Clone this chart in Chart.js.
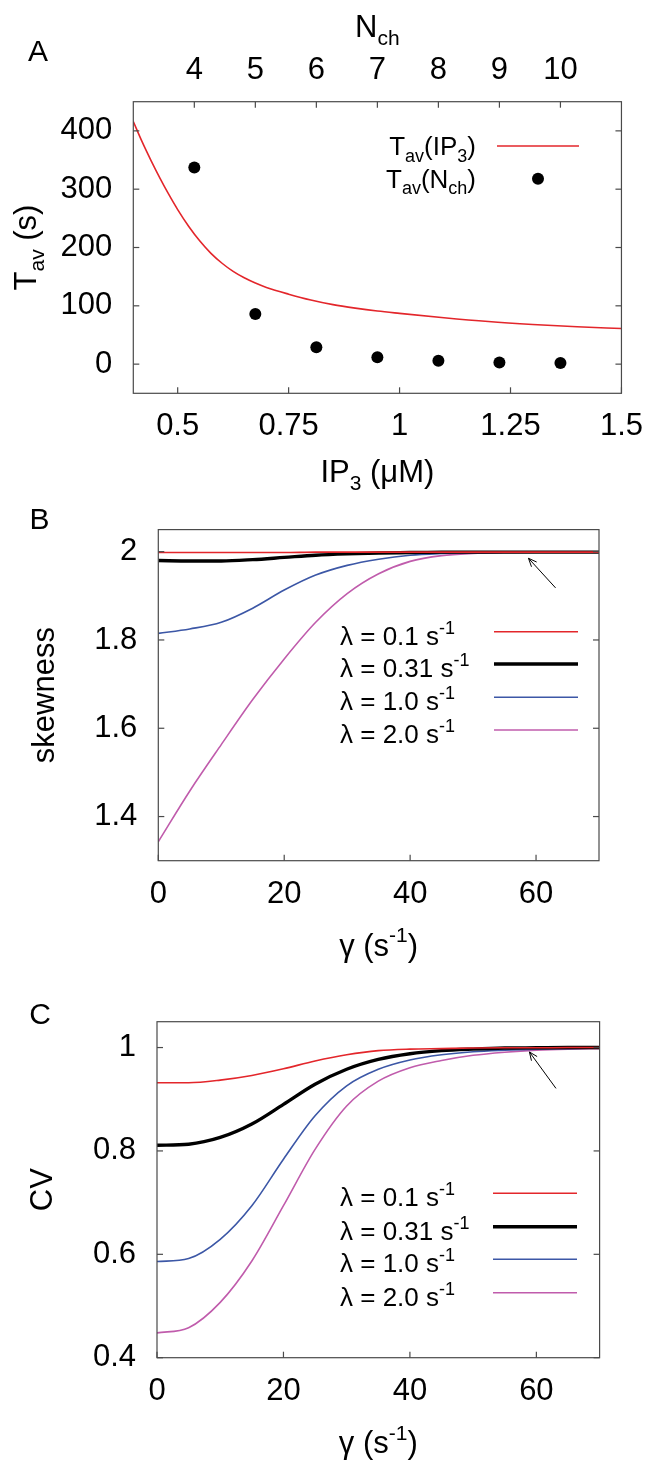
<!DOCTYPE html>
<html>
<head>
<meta charset="utf-8">
<title>Tav, skewness and CV</title>
<script src="https://cdn.jsdelivr.net/npm/chart.js@4.4.1/dist/chart.umd.min.js"></script>
<style>
  html, body { margin: 0; padding: 0; background: #fff; }
  #page { position: relative; width: 658px; height: 1468px; }
  .panel { position: absolute; left: 0; width: 658px; }
</style>
</head>
<body>
<div id="page">
  <div class="panel" style="top:0; height:490px;"><canvas id="chart-a"></canvas></div>
  <div class="panel" style="top:490px; height:490px;"><canvas id="chart-b"></canvas></div>
  <div class="panel" style="top:980px; height:488px;"><canvas id="chart-c"></canvas></div>
</div>
<script>
/* ============================================
   Panel A: Tav vs IP3 / Nch, Panels B-C: skewness and CV vs gamma
   ============================================ */

// --- Panel A data ---
const ip3Values = [0.4, 0.42, 0.44, 0.46, 0.48, 0.5, 0.525, 0.55, 0.575, 0.6, 0.625, 0.65, 0.675, 0.7, 0.75, 0.8, 0.85, 0.9, 0.95, 1.0, 1.1, 1.2, 1.3, 1.4, 1.5];
const tavIp3 = [416, 381, 349, 319, 291, 265, 236, 211, 190, 173, 159, 148, 139, 131.5, 120, 110, 102, 96, 91, 87, 79.5, 73, 68, 64, 61];
const nchValues = [4, 5, 6, 7, 8, 9, 10];
const tavNch = [337, 86, 29, 12, 6, 3, 2];
const ip3Ticks = [0.5, 0.75, 1, 1.25, 1.5];
const nchTicks = [4, 5, 6, 7, 8, 9, 10];
const tavTicks = [0, 100, 200, 300, 400];

// --- Panels B and C data ---
const gammaValues = [0, 5, 10, 15, 20, 25, 30, 35, 40, 45, 50, 55, 60, 65, 70];
const lambdaLabels = ['0.1', '0.31', '1.0', '2.0'];
const skewL01 = [1.998, 1.998, 1.998, 1.998, 1.998, 1.999, 1.999, 1.999, 1.999, 1.999, 1.999, 1.999, 1.999, 1.999, 1.999];
const skewL031 = [1.980, 1.979, 1.979, 1.982, 1.987, 1.992, 1.995, 1.997, 1.998, 1.999, 1.999, 1.999, 1.999, 1.999, 1.999];
const skewL1 = [1.815, 1.825, 1.840, 1.872, 1.913, 1.947, 1.969, 1.983, 1.992, 1.996, 1.998, 1.999, 1.999, 1.999, 1.999];
const skewL2 = [1.343, 1.458, 1.563, 1.665, 1.757, 1.840, 1.905, 1.950, 1.978, 1.991, 1.996, 1.998, 1.999, 1.999, 1.999];
const cvL01 = [0.932, 0.932, 0.937, 0.946, 0.959, 0.974, 0.986, 0.994, 0.997, 0.998, 0.999, 0.9995, 0.9995, 1.0, 1.0];
const cvL031 = [0.811, 0.813, 0.826, 0.852, 0.890, 0.929, 0.958, 0.977, 0.988, 0.994, 0.997, 0.999, 0.9995, 1.0, 1.0];
const cvL1 = [0.586, 0.592, 0.629, 0.694, 0.784, 0.868, 0.926, 0.958, 0.976, 0.986, 0.992, 0.995, 0.997, 0.998, 0.999];
const cvL2 = [0.448, 0.458, 0.507, 0.587, 0.694, 0.803, 0.887, 0.935, 0.961, 0.975, 0.985, 0.991, 0.995, 0.997, 0.998];
const gammaTicks = [0, 20, 40, 60];
const skewTicks = [1.4, 1.6, 1.8, 2];
const cvTicks = [0.4, 0.6, 0.8, 1];

// arrow annotations: [tail, head] in data units
const arrowB = [[63.1, 1.918], [58.8, 1.985]];
const arrowC = [[63.1, 0.921], [58.9, 0.9915]];

const FONT = '"Liberation Sans", Arial, sans-serif';
const RED = '#e3262b';
const BLUE = '#3c57a6';
const MAGENTA = '#c05cac';
const lambdaColors = [RED, '#000', BLUE, MAGENTA];
const lambdaWidths = [1.6, 3.4, 1.6, 1.6];

Chart.defaults.font.family = FONT;
Chart.defaults.color = '#000';

const toPoints = (xs, ys) => xs.map((x, i) => ({ x, y: ys[i] }));
const setTicks = (values) => (scale) => { scale.ticks = values.map(v => ({ value: v })); };

function richText(ctx, parts, x, y, size, align) {
  const small = Math.round(size * 0.68);
  const fontOf = (k) => `${k ? small : size}px ${FONT}`;
  let width = 0;
  parts.forEach(([t, k]) => { ctx.font = fontOf(k); width += ctx.measureText(t).width; });
  let cx = align === 'center' ? x - width / 2 : align === 'right' ? x - width : x;
  ctx.textAlign = 'left';
  ctx.textBaseline = 'alphabetic';
  parts.forEach(([t, k]) => {
    ctx.font = fontOf(k);
    const dy = k === 'sub' ? size * 0.26 : k === 'sup' ? -size * 0.42 : 0;
    ctx.fillText(t, cx, y + dy);
    cx += ctx.measureText(t).width;
  });
}

function seg(ctx, x1, y1, x2, y2) {
  ctx.beginPath();
  ctx.moveTo(x1, y1);
  ctx.lineTo(x2, y2);
  ctx.stroke();
}

// frame, inward ticks, titles, key and arrow drawn over the chart
function decorPlugin(panel) {
  return {
    id: 'decor',
    afterDraw(chart) {
      const { ctx, chartArea: a, scales } = chart;
      const tl = 6;
      ctx.save();
      ctx.strokeStyle = '#4a4a4a';
      ctx.lineWidth = 1.2;
      scales.x.ticks.forEach(t => {
        const p = scales.x.getPixelForValue(t.value);
        seg(ctx, p, a.bottom, p, a.bottom - tl);
      });
      if (scales.x2) {
        scales.x2.ticks.forEach(t => {
          const p = scales.x2.getPixelForValue(t.value);
          seg(ctx, p, a.top, p, a.top + tl);
        });
      }
      scales.y.ticks.forEach(t => {
        const p = scales.y.getPixelForValue(t.value);
        seg(ctx, a.left, p, a.left + tl, p);
        seg(ctx, a.right, p, a.right - tl, p);
      });
      ctx.strokeRect(a.left, a.top, a.right - a.left, a.bottom - a.top);

      ctx.fillStyle = '#000';
      // panel letter and axis titles
      richText(ctx, [[panel.letter]], panel.letterPos[0], panel.letterPos[1], 30, 'center');
      const cx = (a.left + a.right) / 2;
      richText(ctx, panel.xTitle, cx, panel.xTitleY, 31, 'center');
      if (panel.x2Title) richText(ctx, panel.x2Title, cx, panel.x2TitleY, 31, 'center');
      ctx.save();
      ctx.translate(panel.yTitleX, (a.top + a.bottom) / 2);
      ctx.rotate(-Math.PI / 2);
      richText(ctx, panel.yTitle, 0, 0, 31, 'center');
      ctx.restore();

      // key
      const k = panel.key;
      k.rows.forEach((row, i) => {
        const ly = k.rowY[i];
        ctx.fillStyle = '#000';
        richText(ctx, row.parts, k.textX, ly + k.baseOff, k.size, k.align);
        if (row.dot) {
          ctx.beginPath();
          ctx.arc((k.lineX[0] + k.lineX[1]) / 2, ly, 6, 0, Math.PI * 2);
          ctx.fill();
        } else {
          ctx.strokeStyle = row.color;
          ctx.lineWidth = row.width;
          seg(ctx, k.lineX[0], ly, k.lineX[1], ly);
        }
      });

      // arrow
      if (panel.arrow) {
        const [tail, head] = panel.arrow;
        const x1 = scales.x.getPixelForValue(tail[0]), y1 = scales.y.getPixelForValue(tail[1]);
        const x2 = scales.x.getPixelForValue(head[0]), y2 = scales.y.getPixelForValue(head[1]);
        ctx.strokeStyle = '#000';
        ctx.lineWidth = 1;
        seg(ctx, x1, y1, x2, y2);
        const ang = Math.atan2(y2 - y1, x2 - x1);
        [0.4, -0.4].forEach(d => {
          seg(ctx, x2, y2, x2 - 9 * Math.cos(ang + d), y2 - 9 * Math.sin(ang + d));
        });
      }
      ctx.restore();
    }
  };
}

function axisOpts(min, max, ticks, pad, extra) {
  return Object.assign({
    type: 'linear',
    min, max,
    afterBuildTicks: setTicks(ticks),
    grid: { display: false, drawTicks: false },
    border: { display: false },
    ticks: {
      font: { size: 31 },
      color: '#000',
      padding: pad,
      autoSkip: false,
      maxRotation: 0,
      callback: v => String(v)
    }
  }, extra);
}

function lambdaKeyRows() {
  return lambdaLabels.map((l, i) => ({
    parts: [['\u03bb = ' + l + ' s'], ['-1', 'sup']],
    color: lambdaColors[i],
    width: lambdaWidths[i]
  }));
}

function lambdaDatasets(series) {
  return series.map((ys, i) => ({
    label: 'lambda = ' + lambdaLabels[i],
    data: toPoints(gammaValues, ys),
    borderColor: lambdaColors[i],
    borderWidth: lambdaWidths[i],
    pointRadius: 0,
    cubicInterpolationMode: 'monotone'
  }));
}

const baseOptions = {
  responsive: true,
  maintainAspectRatio: false,
  animation: false,
  events: [],
  plugins: { legend: { display: false }, tooltip: { enabled: false } }
};

// --- Panel A ---
new Chart(document.getElementById('chart-a'), {
  type: 'line',
  data: {
    datasets: [
      {
        label: 'Tav(IP3)',
        data: toPoints(ip3Values, tavIp3),
        borderColor: RED,
        borderWidth: 1.6,
        pointRadius: 0,
        cubicInterpolationMode: 'monotone',
        xAxisID: 'x'
      },
      {
        type: 'scatter',
        label: 'Tav(Nch)',
        data: toPoints(nchValues, tavNch),
        xAxisID: 'x2',
        backgroundColor: '#000',
        borderWidth: 0,
        pointRadius: 6
      }
    ]
  },
  options: Object.assign({}, baseOptions, {
    layout: { padding: { left: 0, right: 28, top: 0, bottom: 0 } },
    scales: {
      x: axisOpts(0.4, 1.5, ip3Ticks, 15, { position: 'bottom', afterFit: s => { s.height = 490 - 393.3; } }),
      x2: axisOpts(3, 11, nchTicks, 13, { position: 'top', afterFit: s => { s.height = 101.7; } }),
      y: axisOpts(-50, 450, tavTicks, 21, { position: 'left', afterFit: s => { s.width = 133.3; } })
    }
  }),
  plugins: [decorPlugin({
    letter: 'A', letterPos: [38, 61],
    xTitle: [['IP'], ['3', 'sub'], [' (\u03bcM)']], xTitleY: 482,
    x2Title: [['N'], ['ch', 'sub']], x2TitleY: 37,
    yTitle: [['T'], ['av', 'sub'], [' (s)']], yTitleX: 36,
    key: {
      size: 26, align: 'right', textX: 476, baseOff: 9,
      lineX: [497, 579], rowY: [146, 178.7],
      rows: [
        { parts: [['T'], ['av', 'sub'], ['(IP'], ['3', 'sub'], [')']], color: RED, width: 1.6 },
        { parts: [['T'], ['av', 'sub'], ['(N'], ['ch', 'sub'], [')']], dot: true }
      ]
    }
  })]
});

// --- Panel B ---
new Chart(document.getElementById('chart-b'), {
  type: 'line',
  data: { datasets: lambdaDatasets([skewL01, skewL031, skewL1, skewL2]) },
  options: Object.assign({}, baseOptions, {
    layout: { padding: { left: 0, right: 59, top: 36, bottom: 0 } },
    scales: {
      x: axisOpts(0, 70, gammaTicks, 15, { position: 'bottom', afterFit: s => { s.height = 490 - 370.7; } }),
      y: axisOpts(1.3, 2.05, skewTicks, 21, { position: 'left', afterFit: s => { s.width = 158.3; } })
    }
  }),
  plugins: [decorPlugin({
    letter: 'B', letterPos: [39.5, 38.5],
    xTitle: [['\u03b3 (s'], ['-1', 'sup'], [')']], xTitleY: 465.5,
    yTitle: [['skewness']], yTitleX: 54,
    arrow: arrowB,
    key: { size: 26, align: 'left', textX: 340, baseOff: 13, lineX: [494, 578], rowY: [141.7, 174, 207.3, 240], rows: lambdaKeyRows() }
  })]
});

// --- Panel C ---
new Chart(document.getElementById('chart-c'), {
  type: 'line',
  data: { datasets: lambdaDatasets([cvL01, cvL031, cvL1, cvL2]) },
  options: Object.assign({}, baseOptions, {
    layout: { padding: { left: 0, right: 58.4, top: 41.7, bottom: 0 } },
    scales: {
      x: axisOpts(0, 70, gammaTicks, 15, { position: 'bottom', afterFit: s => { s.height = 488 - 377.7; } }),
      y: axisOpts(0.4, 1.05, cvTicks, 21, { position: 'left', afterFit: s => { s.width = 157; } })
    }
  }),
  plugins: [decorPlugin({
    letter: 'C', letterPos: [40, 43.5],
    xTitle: [['\u03b3 (s'], ['-1', 'sup'], [')']], xTitleY: 473,
    yTitle: [['CV']], yTitleX: 52,
    arrow: arrowC,
    key: { size: 26, align: 'left', textX: 340, baseOff: 13, lineX: [493, 577], rowY: [213.3, 246.7, 279.3, 312.7], rows: lambdaKeyRows() }
  })]
});
</script>
</body>
</html>
